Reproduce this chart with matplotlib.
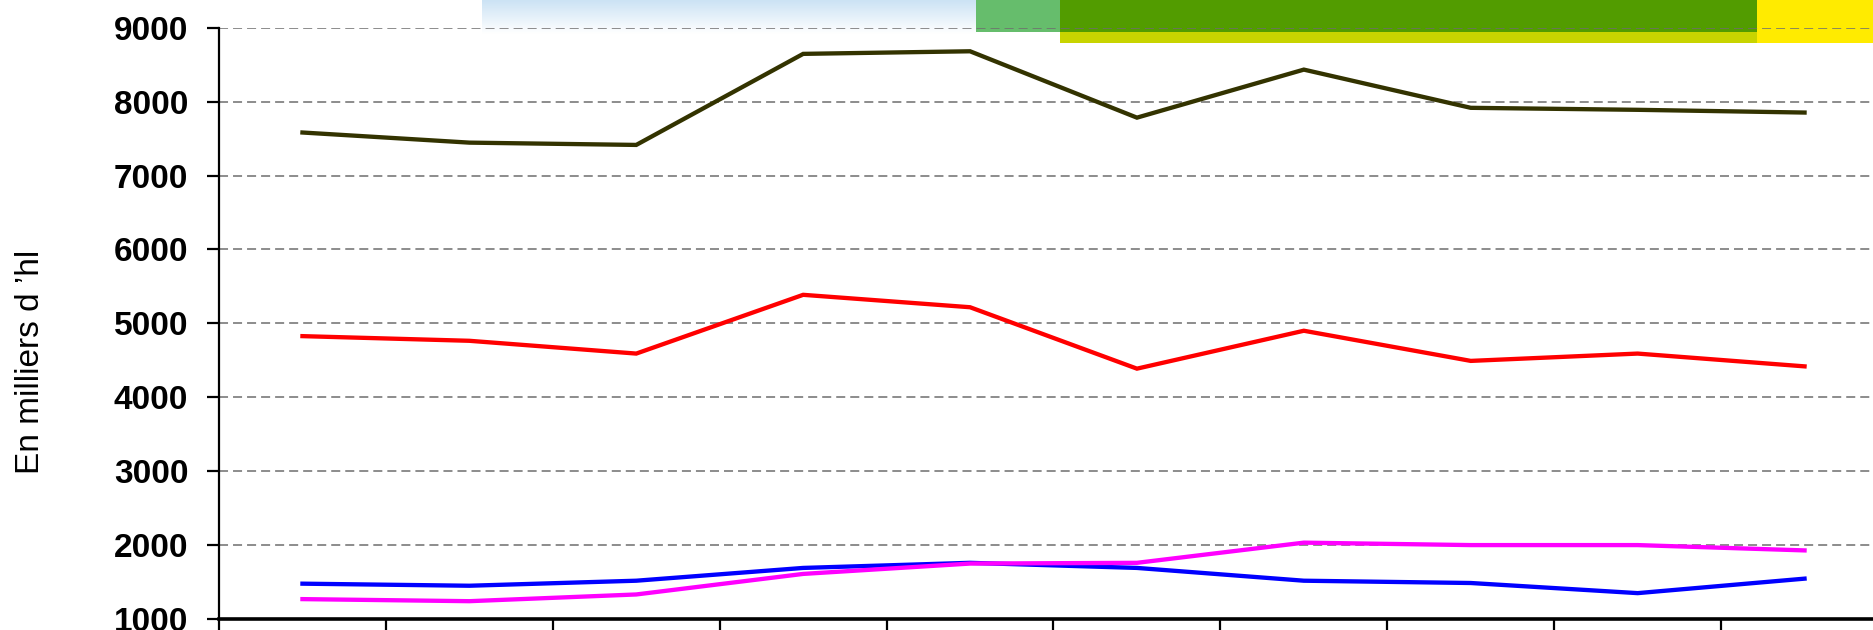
import numpy as np
import matplotlib
matplotlib.use("Agg")
import matplotlib.pyplot as plt
from matplotlib.patches import Rectangle

plt.rcParams['font.family'] = ['Liberation Sans', 'DejaVu Sans']
plt.rcParams['lines.scale_dashes'] = False

# ten campaigns (x labels are cut off in the original picture)
campaigns = ['1', '2', '3', '4', '5', '6', '7', '8', '9', '10']

total = [7582, 7445, 7414, 8646, 8681, 7783, 8433, 7916, 7889, 7852]
red = [4827, 4764, 4591, 5386, 5218, 4387, 4900, 4492, 4591, 4418]
blue = [1478, 1450, 1518, 1691, 1760, 1691, 1518, 1487, 1350, 1546]
pink = [1269, 1241, 1332, 1610, 1750, 1760, 2033, 2000, 2000, 1928]

y_ticks = [1000, 2000, 3000, 4000, 5000, 6000, 7000, 8000, 9000]

W, H = 1874, 630
fig = plt.figure(figsize=(W / 100, H / 100), dpi=100)

# slide decoration shapes along the top edge (pixel coords, y from top)
bg = fig.add_axes([0, 0, 1, 1], zorder=-1)
bg.axis('off')
grad = np.linspace(0, 1, 50).reshape(-1, 1)
top_col = np.array([0.80, 0.89, 0.96])
img = top_col[None, None, :] * (1 - grad[:, :, None]) + np.ones(3)[None, None, :] * grad[:, :, None]
bg.imshow(img, extent=[482, 976, 34, 0], aspect='auto', interpolation='bilinear')
bg.add_patch(Rectangle((976, 0), 84, 32, color='#66BD6C', lw=0))
bg.add_patch(Rectangle((1060, 0), 697, 32, color='#529C00', lw=0))
bg.add_patch(Rectangle((1060, 32), 697, 11, color='#C8D400', lw=0))
bg.add_patch(Rectangle((1757, 0), W - 1757, 43, color='#FFEB00', lw=0))
bg.set_xlim(0, W)
bg.set_ylim(H, 0)

left, right = 219, 1888
top, bottom = 27.7, 619
ax = fig.add_axes([left / W, 1 - bottom / H, (right - left) / W, (bottom - top) / H])
ax.set_facecolor('none')

x = np.arange(len(campaigns)) + 0.5
ax.plot(x, total, color='#333300', lw=3.1, solid_joinstyle='miter', zorder=3)
ax.plot(x, red, color='#FF0000', lw=3.1, solid_joinstyle='miter', zorder=3)
ax.plot(x, blue, color='#0000FF', lw=3.1, solid_joinstyle='miter', zorder=3)
ax.plot(x, pink, color='#FF00FF', lw=3.1, solid_joinstyle='miter', zorder=3)

ax.set_xlim(0, len(campaigns))
ax.set_ylim(1000, 9000)
ax.set_yticks(y_ticks)
ax.set_yticklabels([str(v) for v in y_ticks], fontsize=24, fontweight='bold')
ax.set_xticks(np.arange(len(campaigns) + 1))
ax.set_xticklabels([])

for v in y_ticks[1:]:
    ax.axhline(v, color='#6E6E6E', lw=1.1, linestyle=(0, (6.5, 3.6)), zorder=2)

ax.spines['top'].set_visible(False)
ax.spines['right'].set_visible(False)
ax.spines['left'].set_linewidth(1.6)
ax.spines['bottom'].set_linewidth(2.6)
ax.tick_params(axis='y', direction='out', length=8.6, width=1.6, pad=13.5)
ax.tick_params(axis='x', direction='out', length=14, width=1.6)

fig.text(31 / W, 1 - 362 / H, 'En milliers d \u2019hl', rotation=90, fontsize=24,
         ha='center', va='center')

fig.savefig('out.png', dpi=100)
